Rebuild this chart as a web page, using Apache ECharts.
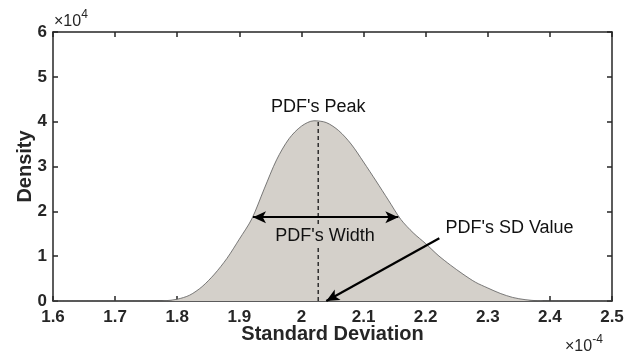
<!DOCTYPE html>
<html>
<head>
<meta charset="utf-8">
<script src="https://cdn.jsdelivr.net/npm/echarts@6/dist/echarts.min.js"></script>
<style>
  html, body { margin: 0; padding: 0; background: #fff; }
  #chart { width: 637px; height: 354px; }
</style>
</head>
<body>
<div id="chart"></div>
<script>
// x in units of 1e-4, density in units of 1e4
const sdValues = [1.60, 1.70, 1.76, 1.78, 1.80, 1.82, 1.84, 1.86, 1.88, 1.90, 1.92, 1.94, 1.96, 1.98,
  2.00, 2.02, 2.04, 2.06, 2.08, 2.10, 2.12, 2.14, 2.16, 2.18, 2.20, 2.22, 2.24, 2.26,
  2.28, 2.30, 2.32, 2.34, 2.36, 2.38, 2.40, 2.50];
const density = [0, 0, 0, 0.005, 0.04, 0.13, 0.32, 0.60, 0.95, 1.38, 1.83, 2.50, 3.15, 3.62,
  3.90, 4.02, 3.98, 3.80, 3.50, 3.10, 2.68, 2.25, 1.82, 1.52, 1.28, 1.02, 0.80, 0.60,
  0.42, 0.29, 0.17, 0.08, 0.03, 0.005, 0, 0];

const peakX = 2.027;
const peakY = 4.02;
const widthLeft = 1.922;
const widthRight = 2.156;
const widthLevel = 1.87;
const sdArrowFrom = [2.222, 1.40];
const sdArrowTo = [2.040, 0];

const xTicks = [1.6, 1.7, 1.8, 1.9, 2, 2.1, 2.2, 2.3, 2.4, 2.5];
const yTicks = [0, 1, 2, 3, 4, 5, 6];

const axisColor = '#262626';
const fillColor = '#d4d0ca';
const font = '"Liberation Sans", Arial, Helvetica, sans-serif';

const myChart = echarts.init(document.getElementById('chart'), null, { renderer: 'canvas' });

const baseX = {
  type: 'value', min: 1.6, max: 2.5, interval: 0.1,
  axisLine: { show: true, onZero: false, lineStyle: { color: axisColor, width: 1.5 } },
  axisTick: { show: true, inside: true, length: 5, lineStyle: { color: axisColor, width: 1.5 } },
  splitLine: { show: false }
};
const baseY = {
  type: 'value', min: 0, max: 6, interval: 1,
  axisLine: { show: true, onZero: false, lineStyle: { color: axisColor, width: 1.5 } },
  axisTick: { show: true, inside: true, length: 5, lineStyle: { color: axisColor, width: 1.5 } },
  splitLine: { show: false }
};

const option = {
  animation: false,
  backgroundColor: '#ffffff',
  grid: { left: 53, right: 25, top: 32, bottom: 53 },
  xAxis: [
    Object.assign({}, baseX, {
      position: 'bottom',
      name: 'Standard Deviation',
      nameLocation: 'middle',
      nameGap: 23,
      nameMoveOverlap: false,
      nameTextStyle: { fontFamily: font, fontSize: 20, fontWeight: 'bold', color: axisColor },
      axisLabel: {
        margin: 8, fontFamily: font, fontSize: 17, fontWeight: 'bold', color: axisColor,
        formatter: v => {
          const t = xTicks.find(k => Math.abs(k - v) < 1e-6);
          return t === undefined ? '' : String(t);
        }
      }
    }),
    Object.assign({}, baseX, { position: 'top', axisLabel: { show: false } })
  ],
  yAxis: [
    Object.assign({}, baseY, {
      position: 'left',
      name: 'Density',
      nameLocation: 'middle',
      nameGap: 18,
      nameMoveOverlap: false,
      nameTextStyle: { fontFamily: font, fontSize: 20, fontWeight: 'bold', color: axisColor },
      axisLabel: {
        margin: 6, fontFamily: font, fontSize: 17, fontWeight: 'bold', color: axisColor,
        formatter: v => String(yTicks.find(k => Math.abs(k - v) < 1e-6))
      }
    }),
    Object.assign({}, baseY, { position: 'right', axisLabel: { show: false } })
  ],
  graphic: [
    {
      type: 'text', left: 54, top: 9,
      style: {
        text: '{a|\u00d710}{b|4}',
        rich: {
          a: { fontFamily: font, fontSize: 16, fill: axisColor, verticalAlign: 'bottom' },
          b: { fontFamily: font, fontSize: 12, fill: axisColor, verticalAlign: 'top', padding: [0, 0, 9, 0] }
        }
      }
    },
    {
      type: 'text', left: 565, top: 334,
      style: {
        text: '{a|\u00d710}{b|-4}',
        rich: {
          a: { fontFamily: font, fontSize: 16, fill: axisColor, verticalAlign: 'bottom' },
          b: { fontFamily: font, fontSize: 12, fill: axisColor, verticalAlign: 'top', padding: [0, 0, 9, 0] }
        }
      }
    }
  ],
  series: [
    {
      name: 'PDF',
      type: 'line',
      xAxisIndex: 0, yAxisIndex: 0,
      data: sdValues.map((x, i) => [x, density[i]]),
      smooth: 0.3,
      symbol: 'none',
      lineStyle: { color: '#5a5a5a', width: 0.8 },
      areaStyle: { color: fillColor, opacity: 1 },
      z: 2,
      markLine: {
        silent: true,
        animation: false,
        label: { show: false },
        data: [
          [
            { coord: [widthLeft, widthLevel], symbol: 'arrow', symbolSize: [9, 13] },
            { coord: [widthRight, widthLevel], symbol: 'arrow', symbolSize: [9, 13] }
          ],
          [
            { coord: sdArrowFrom, symbol: 'none' },
            { coord: sdArrowTo, symbol: 'arrow', symbolSize: [9, 13] }
          ]
        ],
        lineStyle: { color: '#000', width: 2.2, type: 'solid' }
      }
    },
    {
      name: 'Peak',
      type: 'line',
      xAxisIndex: 0, yAxisIndex: 0,
      data: [[peakX, 0], [peakX, peakY]],
      symbol: 'none',
      lineStyle: { color: '#222', width: 1.4, type: [4, 3] },
      z: 3,
      markPoint: {
        silent: true,
        symbol: 'rect',
        symbolSize: 1,
        itemStyle: { color: 'transparent' },
        label: { show: true, fontFamily: font, fontSize: 18, color: '#111' },
        data: [
          { coord: [peakX, 4.33], value: "PDF's Peak", label: { formatter: "PDF's Peak" } },
          {
            coord: [2.038, 1.45], value: "PDF's Width",
            label: { formatter: "PDF's Width", backgroundColor: fillColor, padding: [0, 1] }
          },
          { coord: [2.335, 1.63], value: "PDF's SD Value", label: { formatter: "PDF's SD Value" } }
        ]
      }
    }
  ]
};

myChart.setOption(option);
window.addEventListener('resize', () => myChart.resize());
</script>
</body>
</html>
